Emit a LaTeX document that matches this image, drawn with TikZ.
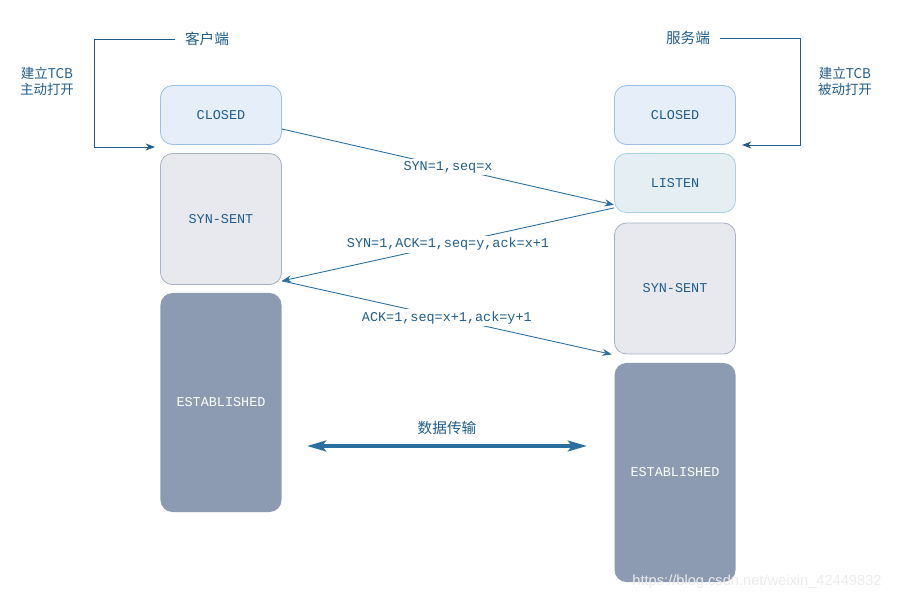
\documentclass[tikz,border=0pt]{standalone}
\usepackage{fontspec}
\setmainfont{Liberation Mono}
\newfontfamily\cjk{Noto Sans CJK SC}
\newfontfamily\wmfont{Liberation Sans}
\usetikzlibrary{arrows.meta}

\definecolor{txtblue}{HTML}{215D8C}
\definecolor{lineblue}{HTML}{2A6FA0}
\definecolor{closedfill}{HTML}{E6EEF9}
\definecolor{closeddraw}{HTML}{9CC0E8}
\definecolor{listenfill}{HTML}{E5EFF3}
\definecolor{listendraw}{HTML}{A8D0E0}
\definecolor{sentfill}{HTML}{E8E9EE}
\definecolor{sentdraw}{HTML}{A8B2C6}
\definecolor{estfill}{HTML}{8C9BB2}

\begin{document}
\begin{tikzpicture}[x=0.03cm,y=-0.03cm,
  state/.style={rectangle,rounded corners=0.36cm,minimum width=3.63cm,
    text=txtblue,font=\fontsize{11.5}{14}\selectfont,line width=0.7pt},
  closedst/.style={state,fill=closedfill,draw=closeddraw,minimum height=1.77cm},
  listenst/.style={state,fill=listenfill,draw=listendraw,minimum height=1.77cm},
  sentst/.style={state,fill=sentfill,draw=sentdraw,minimum height=3.93cm},
  estst/.style={state,fill=estfill,text=white,minimum height=6.57cm},
  side/.style={text=txtblue,inner xsep=0.28cm,font=\cjk\fontsize{12.5}{14}\selectfont},
  note/.style={text=txtblue,align=center,font=\cjk\fontsize{11.5}{13.6}\selectfont},
  msglbl/.style={fill=white,text=txtblue,inner sep=2pt,font=\fontsize{11.5}{14}\selectfont},
  msg/.style={draw=lineblue,line width=0.75pt,-{Stealth[length=8pt,width=6pt]}},
  open/.style={draw=txtblue,line width=0.8pt,-{Stealth[length=8pt,width=6pt]}}]
\useasboundingbox (0,0) rectangle (903,601);
% Client side
  \node[side] (client) at (207,39) {客户端};
  \node[note] (cnote) at (47,81) {建立TCB\\主动打开};
  \node[closedst] (cclosed) at (221,115) {CLOSED};
  \node[sentst] (csent) at (221,219) {SYN-SENT};
  \node[estst] (cestab) at (221,402.5) {ESTABLISHED};
  \coordinate (copen) at (155,147);
  \draw[open] (client.west) -- ++(-81,0) |- (copen);
% Server side
  \node[side] (server) at (688,38) {服务端};
  \node[note] (snote) at (845,81) {建立TCB\\被动打开};
  \node[closedst] (sclosed) at (675,115) {CLOSED};
  \node[listenst] (slisten) at (675,183) {LISTEN};
  \node[sentst] (ssent) at (675,288.5) {SYN-SENT};
  \node[estst] (sestab) at (675,472.5) {ESTABLISHED};
  \coordinate (sopen) at (742,145);
  \draw[open] (server.east) -- ++(81,0) |- (sopen);
% Handshake
  \draw[msg] ([yshift=-0.42cm]cclosed.east) --
    node[msglbl] {SYN=1,seq=x} ([yshift=0.24cm]slisten.south west);
  \draw[msg] ([yshift=0.15cm]slisten.south west) --
    node[msglbl] {SYN=1,ACK=1,seq=y,ack=x+1} ([yshift=0.12cm]csent.south east);
  \draw[msg] ([yshift=0.12cm]csent.south east) --
    node[msglbl] {ACK=1,seq=x+1,ack=y+1} ([xshift=-2pt]ssent.south west);
% Data transfer
  \coordinate (dleft) at (307,446);
  \coordinate (dright) at (587,446);
  \draw[lineblue,line width=3.4pt,{Stealth[length=0.57cm,width=0.32cm,inset=0.12cm]}-{Stealth[length=0.57cm,width=0.32cm,inset=0.12cm]}]
    (dleft) -- node[side,above=0.15cm] (data) {数据传输} (dright);
  \node[text=black!8,font=\wmfont\fontsize{12.5}{14}\selectfont] (wm) at (757,582) {https://blog.csdn.net/weixin\_42449832};
\end{tikzpicture}
\end{document}
